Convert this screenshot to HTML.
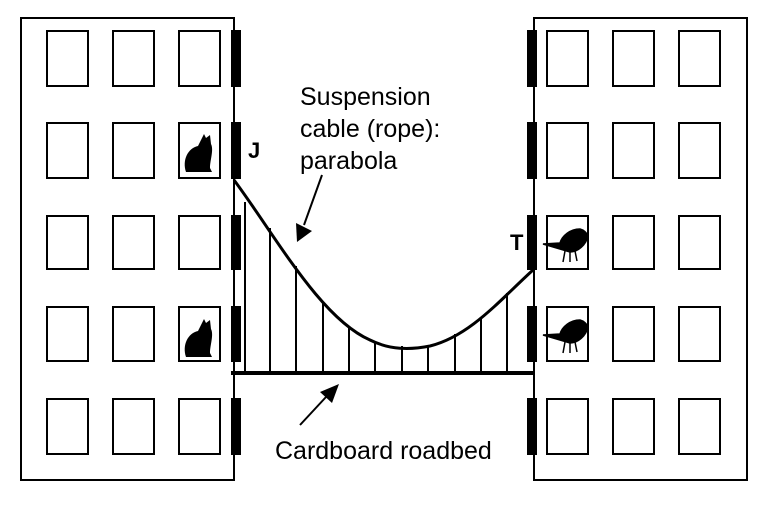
<!DOCTYPE html>
<html><head><style>body{margin:0;background:#fff}svg{display:block}</style></head><body>
<svg width="781" height="507" xmlns="http://www.w3.org/2000/svg" font-family="Liberation Sans, sans-serif">
<g fill="none" stroke="#000" stroke-width="2">
<rect x="21" y="18" width="213" height="462"/>
<rect x="534" y="18" width="213" height="462"/>
<g id="wl">
<rect x="47" y="31" width="41" height="55"/><rect x="113" y="31" width="41" height="55"/><rect x="179" y="31" width="41" height="55"/>
<rect x="47" y="123" width="41" height="55"/><rect x="113" y="123" width="41" height="55"/><rect x="179" y="123" width="41" height="55"/>
<rect x="47" y="216" width="41" height="53"/><rect x="113" y="216" width="41" height="53"/><rect x="179" y="216" width="41" height="53"/>
<rect x="47" y="307" width="41" height="54"/><rect x="113" y="307" width="41" height="54"/><rect x="179" y="307" width="41" height="54"/>
<rect x="47" y="399" width="41" height="55"/><rect x="113" y="399" width="41" height="55"/><rect x="179" y="399" width="41" height="55"/>
</g>
<use href="#wl" x="500"/>
</g>
<g fill="#000">
<rect x="231" y="30" width="10" height="57"/><rect x="231" y="122" width="10" height="57"/><rect x="231" y="215" width="10" height="55"/><rect x="231" y="306" width="10" height="56"/><rect x="231" y="398" width="10" height="57"/>
<rect x="527" y="30" width="10" height="57"/><rect x="527" y="122" width="10" height="57"/><rect x="527" y="215" width="10" height="55"/><rect x="527" y="306" width="10" height="56"/><rect x="527" y="398" width="10" height="57"/>
</g>
<g fill="#000">
<path d="M186 172 C182 160 188 148 198 146 L204 134 L206 138 L210 135 L211 144 C214 150 210 160 210 168 L212 172 Z"/>
<path d="M186 357 C182 345 188 333 198 331 L204 319 L206 323 L210 320 L211 329 C214 335 210 345 210 353 L212 357 Z"/>
</g>
<g fill="#000" stroke="#000" stroke-width="1.5">
<path d="M543 244 L560 243 C562 236 570 229 580 229 C584 230 587 233 588 236 C586 245 578 252 570 252 L560 249 Z"/>
<path d="M565 251 L563 262 M570 252 L570 262 M575 251 L577 261" fill="none"/>
<path d="M543 335 L560 334 C562 327 570 320 580 320 C584 321 587 324 588 327 C586 336 578 343 570 343 L560 340 Z"/>
<path d="M565 342 L563 353 M570 343 L570 353 M575 342 L577 352" fill="none"/>
</g>
<path d="M234 180 C275 235 320 318 370 340 C390 350 410 350 430 346 C470 336 500 300 533 270" fill="none" stroke="#000" stroke-width="3"/>
<g stroke="#000" stroke-width="2">
<line x1="245" y1="202" x2="245" y2="372"/><line x1="270" y1="228" x2="270" y2="372"/><line x1="296" y1="266" x2="296" y2="372"/><line x1="323" y1="302" x2="323" y2="372"/><line x1="349" y1="328" x2="349" y2="372"/><line x1="375" y1="342" x2="375" y2="372"/><line x1="402" y1="346" x2="402" y2="372"/><line x1="428" y1="345" x2="428" y2="372"/><line x1="455" y1="334" x2="455" y2="372"/><line x1="481" y1="318" x2="481" y2="372"/><line x1="507" y1="293" x2="507" y2="372"/>
</g>
<line x1="231" y1="373" x2="534" y2="373" stroke="#000" stroke-width="4"/>
<line x1="322" y1="175" x2="304" y2="225" stroke="#000" stroke-width="2"/>
<polygon points="297,242 296,223 312,231" fill="#000"/>
<line x1="300" y1="425" x2="326" y2="397" stroke="#000" stroke-width="2"/>
<polygon points="339,384 320,392 332,403" fill="#000"/>
<g font-size="25" fill="#000">
<text x="300" y="105">Suspension</text>
<text x="300" y="137">cable (rope):</text>
<text x="300" y="169">parabola</text>
<text x="275" y="459">Cardboard roadbed</text>
<text x="248" y="158" font-weight="bold" font-size="22">J</text>
<text x="510" y="250" font-weight="bold" font-size="22">T</text>
</g>
</svg>
</body></html>
